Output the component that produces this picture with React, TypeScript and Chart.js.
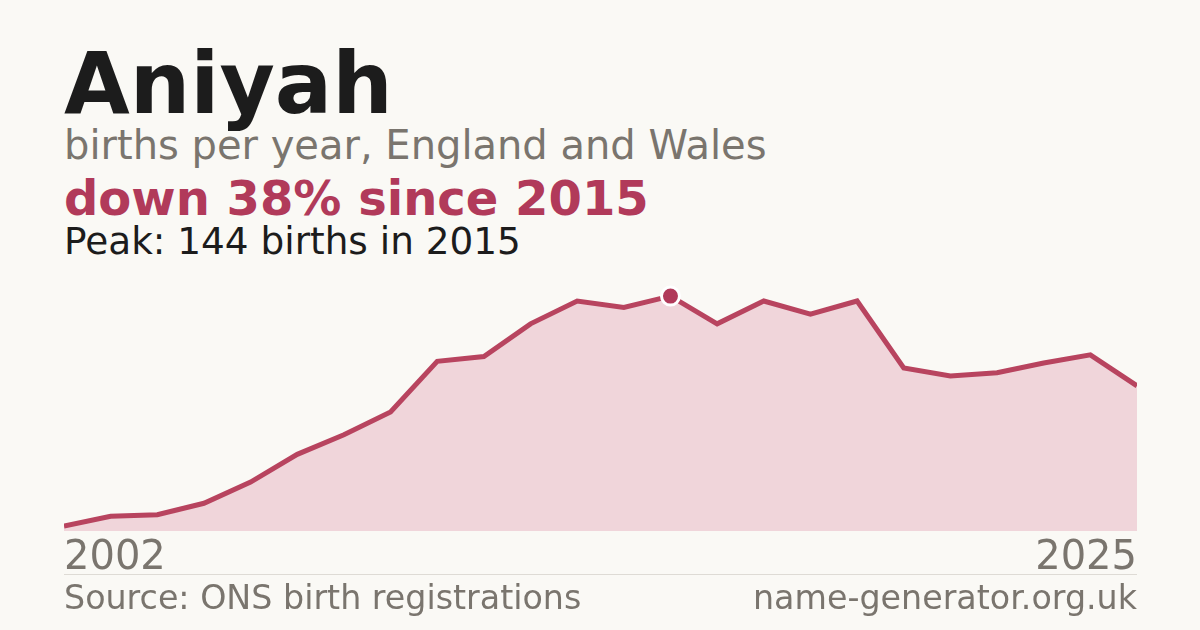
import { Chart, registerables } from "chart.js";
import { useRef, useEffect } from "react";

Chart.register(...registerables);

const years = [
  "2002", "2003", "2004", "2005", "2006", "2007", "2008", "2009",
  "2010", "2011", "2012", "2013", "2014", "2015", "2016", "2017",
  "2018", "2019", "2020", "2021", "2022", "2023", "2024", "2025",
];
const births = [
  3, 9, 10, 17, 30, 47, 59, 73, 104, 107, 127, 141, 137, 144, 127, 141,
  133, 141, 100, 95, 97, 103, 108, 89,
];
const shownYears = ["2002", "2025"];

const FONT = "'DejaVu Sans', Verdana, sans-serif";
const RED = "#b13a5a";
const GREY = "#7a756e";

const peakIndex = births.indexOf(Math.max(...births));

export default function App() {
  const chartRef = useRef<HTMLCanvasElement>(null);

  useEffect(() => {
    document.body.style.margin = "0";
    document.body.style.background = "#faf9f5";
    let chartInstance: Chart | null = null;
    const ctx = chartRef.current?.getContext("2d");
    if (ctx) {
      chartInstance = new Chart(ctx, {
        type: "line",
        data: {
          labels: years,
          datasets: [
            {
              data: births,
              borderColor: "#b8445f",
              borderWidth: 5,
              backgroundColor: "#f0d5da",
              fill: "origin",
              tension: 0,
              clip: 0,
              pointRadius: (c: any) => (c.dataIndex === peakIndex ? 9 : 0),
              pointBackgroundColor: RED,
              pointBorderColor: "#ffffff",
              pointBorderWidth: 3,
            },
          ],
        },
        options: {
          responsive: false,
          maintainAspectRatio: false,
          animation: false,
          layout: { padding: 0, autoPadding: false },
          plugins: { legend: { display: false }, tooltip: { enabled: false } },
          scales: {
            x: {
              offset: false,
              grid: { display: false, drawTicks: false },
              border: { display: false },
              ticks: {
                autoSkip: false,
                maxRotation: 0,
                align: "inner",
                padding: 4,
                color: GREY,
                font: { family: FONT, size: 40, lineHeight: 1.2 },
                callback: (_v: any, i: number) =>
                  shownYears.includes(years[i]) ? years[i] : "",
              },
            },
            y: {
              display: false,
              min: 0,
              max: 160,
            },
          },
        },
      });
    }
    return () => {
      if (chartInstance) chartInstance.destroy();
    };
  }, []);

  const text = (
    top: number,
    size: number,
    color: string,
    weight: number,
    extra: any = {},
  ) => ({
    position: "absolute" as const,
    top,
    left: 64,
    fontFamily: FONT,
    fontSize: size,
    lineHeight: `${size}px`,
    color,
    fontWeight: weight,
    whiteSpace: "nowrap" as const,
    ...extra,
  });

  return (
    <div
      style={{
        position: "relative",
        width: 1200,
        height: 630,
        background: "#faf9f5",
        overflow: "hidden",
      }}
    >
      <div style={text(41, 85, "#1c1c1c", 700)}>Aniyah</div>
      <div style={text(125, 40, GREY, 400)}>births per year, England and Wales</div>
      <div style={text(174, 48, RED, 700)}>down 38% since 2015</div>
      <div style={text(223, 37.4, "#1c1c1c", 400)}>Peak: 144 births in 2015</div>
      <canvas
        ref={chartRef}
        width={1081}
        height={317}
        style={{ position: "absolute", left: 60, top: 270, width: 1081, height: 317 }}
      />
      <div
        style={{
          position: "absolute",
          left: 64,
          top: 574,
          width: 1073,
          height: 1,
          background: "#dedbd5",
        }}
      />
      <div style={text(581, 33.3, GREY, 400)}>Source: ONS birth registrations</div>
      <div style={text(581, 33.3, GREY, 400, { left: "auto", right: 63 })}>
        name-generator.org.uk
      </div>
    </div>
  );
}
